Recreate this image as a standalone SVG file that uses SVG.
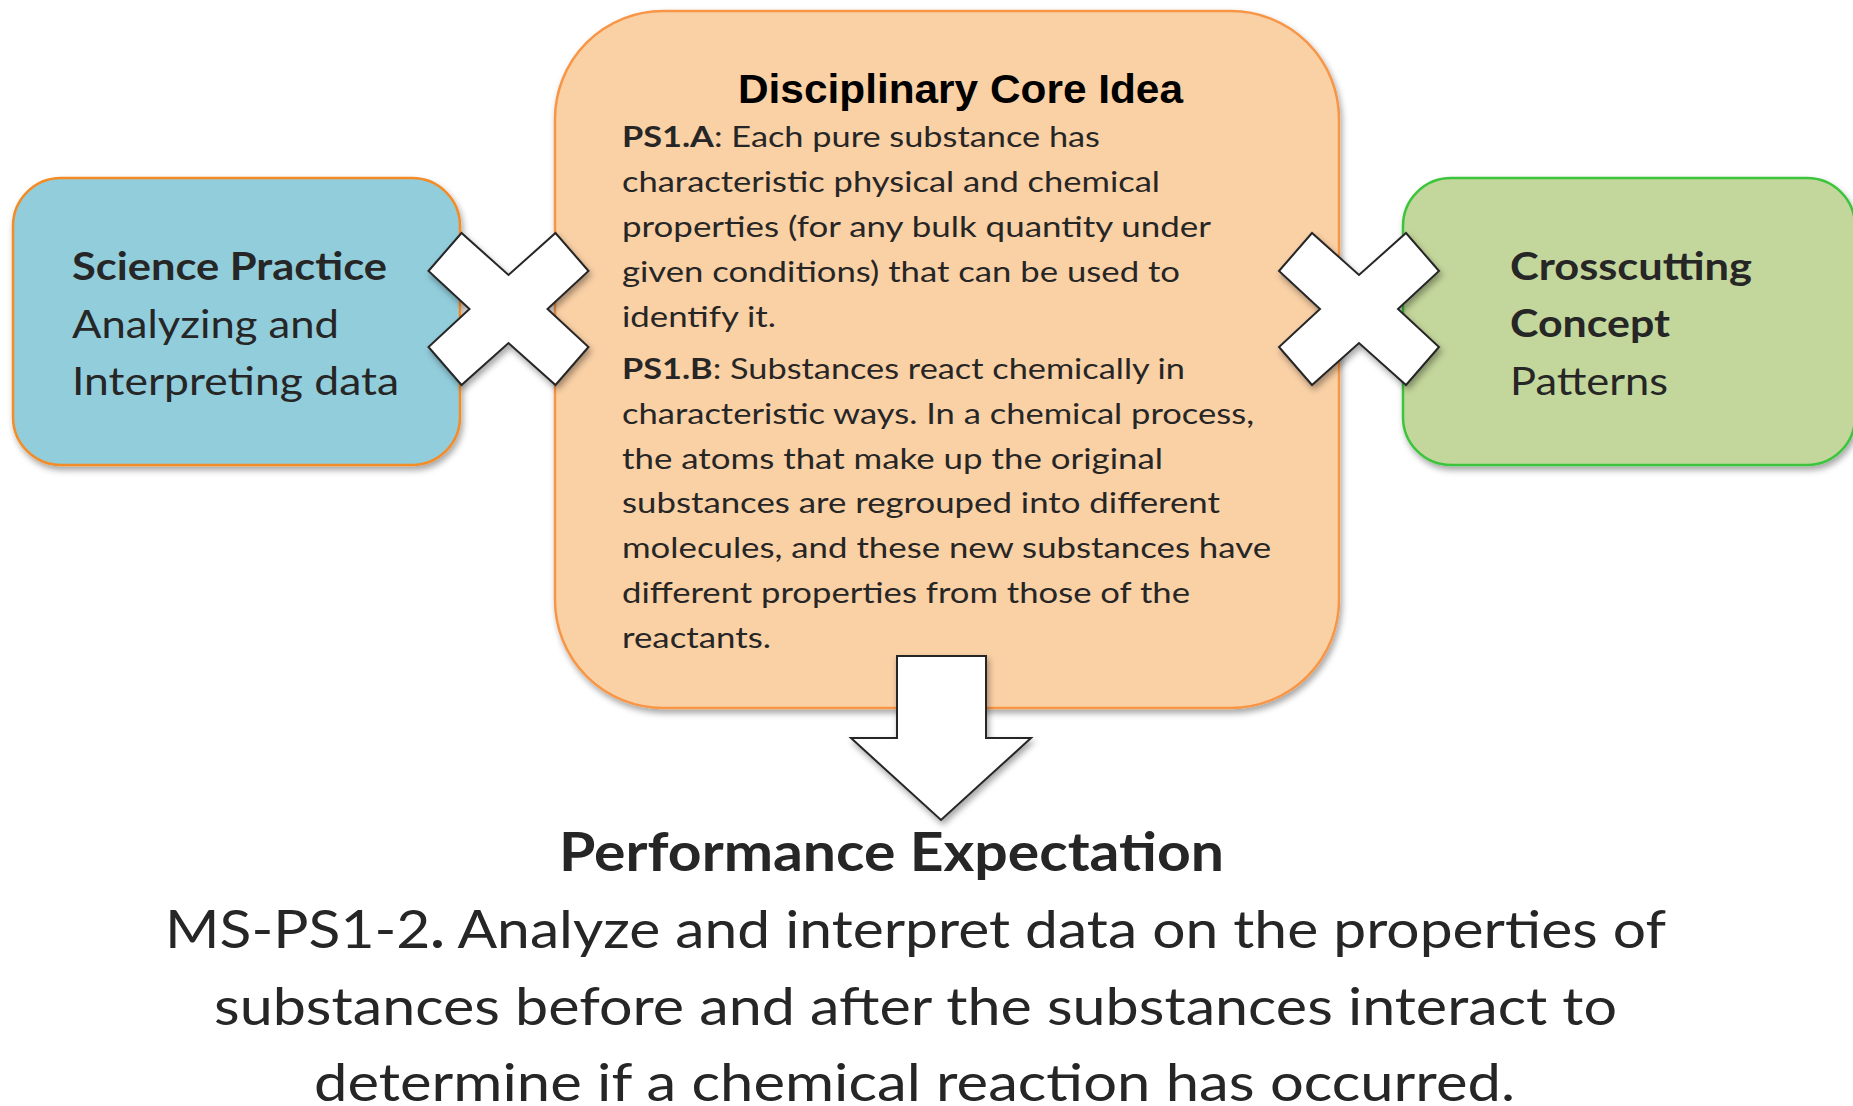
<svg xmlns="http://www.w3.org/2000/svg" xmlns:xlink="http://www.w3.org/1999/xlink" width="1853" height="1106" viewBox="0 0 1853 1106">
  <style>
    .box { stroke-width: 2.5; }
    .sans { font-family: Lato, "Open Sans", "Liberation Sans", sans-serif; fill: #262626; }
    .b { font-weight: bold; }
    .title { font-family: "Liberation Sans", Arial, sans-serif; font-weight: bold; fill: #000; }
    .shape { fill: #fff; stroke: #262626; stroke-width: 2; stroke-linejoin: miter; }
  </style>
  <defs>
    <filter id="shadow" x="-10%" y="-10%" width="125%" height="130%">
      <feDropShadow dx="2" dy="4" stdDeviation="3" flood-color="#000" flood-opacity="0.35"/>
    </filter>
    <!-- multiplication-sign shape, centred on 0,0 -->
    <path id="times" d="M-80,-38 L-47,-76 L0,-34 L47,-76 L80,-38 L39,0 L80,38 L47,76 L0,34 L-47,76 L-80,38 L-39,0 Z"/>
  </defs>

  <rect width="1853" height="1106" fill="#fff"/>

  <!-- Science Practice -->
  <g id="science-practice">
    <rect class="box" x="13" y="178" width="447" height="287" rx="48" ry="48" fill="#92CDDC" stroke="#F38B25" filter="url(#shadow)"/>
    <text class="sans b" x="72" y="280" font-size="39" textLength="315" lengthAdjust="spacingAndGlyphs">Science Practice</text>
    <text class="sans" x="72" y="338" font-size="39" textLength="267" lengthAdjust="spacingAndGlyphs">Analyzing and</text>
    <text class="sans" x="72" y="395" font-size="39" textLength="327" lengthAdjust="spacingAndGlyphs">Interpreting data</text>
  </g>

  <!-- Disciplinary Core Idea -->
  <g id="core-idea">
    <rect class="box" x="555" y="11" width="784" height="697" rx="108" ry="108" fill="#FAD0A5" stroke="#F79646" filter="url(#shadow)"/>
    <text class="title" x="738" y="103" font-size="41" textLength="445" lengthAdjust="spacingAndGlyphs">Disciplinary Core Idea</text>
    <g class="sans" font-size="29">
      <text x="622" y="147" textLength="478" lengthAdjust="spacingAndGlyphs"><tspan class="b">PS1.A</tspan>: Each pure substance has</text>
      <text x="622" y="192" textLength="538" lengthAdjust="spacingAndGlyphs">characteristic physical and chemical</text>
      <text x="622" y="237" textLength="589" lengthAdjust="spacingAndGlyphs">properties (for any bulk quantity under</text>
      <text x="622" y="282" textLength="558" lengthAdjust="spacingAndGlyphs">given conditions) that can be used to</text>
      <text x="622" y="327" textLength="154" lengthAdjust="spacingAndGlyphs">identify it.</text>
      <text x="622" y="379" textLength="563" lengthAdjust="spacingAndGlyphs"><tspan class="b">PS1.B</tspan>: Substances react chemically in</text>
      <text x="622" y="424" textLength="632" lengthAdjust="spacingAndGlyphs">characteristic ways. In a chemical process,</text>
      <text x="622" y="469" textLength="541" lengthAdjust="spacingAndGlyphs">the atoms that make up the original</text>
      <text x="622" y="513" textLength="598" lengthAdjust="spacingAndGlyphs">substances are regrouped into different</text>
      <text x="622" y="558" textLength="649" lengthAdjust="spacingAndGlyphs">molecules, and these new substances have</text>
      <text x="622" y="603" textLength="568" lengthAdjust="spacingAndGlyphs">different properties from those of the</text>
      <text x="622" y="648" textLength="149" lengthAdjust="spacingAndGlyphs">reactants.</text>
    </g>
  </g>

  <!-- Crosscutting Concept -->
  <g id="crosscutting-concept">
    <rect class="box" x="1403" y="178" width="452" height="287" rx="48" ry="48" fill="#C3D69B" stroke="#3DC43D" filter="url(#shadow)"/>
    <text class="sans b" x="1510" y="280" font-size="39" textLength="242" lengthAdjust="spacingAndGlyphs">Crosscutting</text>
    <text class="sans b" x="1510" y="337" font-size="39" textLength="160" lengthAdjust="spacingAndGlyphs">Concept</text>
    <text class="sans" x="1510" y="395" font-size="39" textLength="158" lengthAdjust="spacingAndGlyphs">Patterns</text>
  </g>

  <!-- Performance Expectation -->
  <g id="performance-expectation">
    <text class="sans b" x="559" y="871" font-size="53" textLength="665" lengthAdjust="spacingAndGlyphs">Performance Expectation</text>
    <text class="sans" x="165" y="948" font-size="53" textLength="1501" lengthAdjust="spacingAndGlyphs">MS-PS1-2<tspan class="b">.</tspan> Analyze and interpret data on the properties of</text>
    <text class="sans" x="214" y="1025" font-size="53" textLength="1403" lengthAdjust="spacingAndGlyphs">substances before and after the substances interact to</text>
    <text class="sans" x="314" y="1101" font-size="53" textLength="1201" lengthAdjust="spacingAndGlyphs">determine if a chemical reaction has occurred.</text>
  </g>

  <!-- Connectors: multiply signs and the down arrow -->
  <g id="connectors">
    <use xlink:href="#times" href="#times" class="shape" transform="translate(508.5,309)" filter="url(#shadow)"/>
    <use xlink:href="#times" href="#times" class="shape" transform="translate(1359,309)" filter="url(#shadow)"/>
    <path class="shape" d="M897,656 L986,656 L986,738 L1031,738 L941,820 L851,738 L897,738 Z" filter="url(#shadow)"/>
  </g>
</svg>
